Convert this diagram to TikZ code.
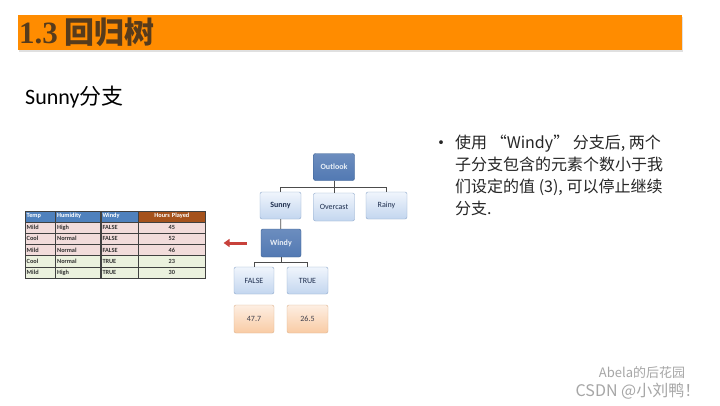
\documentclass[tikz,border=0pt]{standalone}
\usepackage{fontspec}
\setmainfont{Carlito}
\newfontfamily\cjk{Noto Sans CJK SC}
\newfontfamily\serifnum{Liberation Serif}
\usetikzlibrary{arrows.meta,positioning}
\definecolor{TitleOrange}{HTML}{FF8C00}
\definecolor{TitleBrown}{HTML}{563B1C}
\definecolor{HeadBlue}{HTML}{4F81BD}
\definecolor{HeadBrown}{HTML}{A5521C}
\definecolor{RowPink}{HTML}{F2DCDB}
\definecolor{RowGreen}{HTML}{EBF1DE}
\definecolor{NodeEdge}{HTML}{8DA8CB}
\definecolor{NodeTop}{HTML}{F0F5FC}
\definecolor{NodeBot}{HTML}{C3D6EF}
\definecolor{DarkFill}{HTML}{5279B3}
\definecolor{DarkEdge}{HTML}{3A5F91}
\definecolor{LeafTop}{HTML}{FDEEE2}
\definecolor{LeafBot}{HTML}{F9CBA4}
\definecolor{LeafEdge}{HTML}{DDB48F}
\definecolor{InkNavy}{HTML}{1F2F4F}
\definecolor{ArrRed}{HTML}{C8413B}

\begin{document}
\begin{tikzpicture}[x=1pt,y=-1pt,
  cellL/.style={rectangle,draw=black!75,line width=0.4pt,anchor=north west,
                minimum height=11.3pt,inner xsep=1.5pt,inner ysep=0pt,align=left,
                font=\fontsize{6.3}{7}\selectfont\bfseries,text=black!80},
  cellC/.style={cellL,align=center},
  headcell/.style={cellL,minimum height=11pt,text=white},
  light/.style={rectangle,rounded corners=2pt,draw=NodeEdge,
                top color=NodeTop,bottom color=NodeBot,
                minimum width=41pt,minimum height=27pt,inner sep=1pt,
                font=\fontsize{8}{9}\selectfont,text=InkNavy},
  dark/.style={light,draw=DarkEdge,top color=DarkFill!85,bottom color=DarkFill,
               text=white!88!HeadBlue,font=\fontsize{8}{9}\selectfont\bfseries},
  leaf/.style={light,draw=LeafEdge,top color=LeafTop,bottom color=LeafBot,
               text=InkNavy!80!brown},
  link/.style={draw=black!70,line width=0.8pt},
  redarr/.style={-{Triangle[length=6pt,width=8pt]},line width=3pt,ArrRed}]
\useasboundingbox (0,0) rectangle (720,405);
\fill[white] (0,0) rectangle (720,405);

% title bar
\fill[black!12] (19,17) rectangle (683,52);
\fill[TitleOrange] (18,15) rectangle (682,50);
\node[anchor=west,inner sep=0pt,text=TitleBrown] (title) at (19,32)
  {{\serifnum\bfseries\fontsize{31}{31}\selectfont 1.3}\hspace{7pt}%
   {\cjk\bfseries\fontsize{30}{30}\selectfont 回归树}};
\node[anchor=west,inner sep=0pt,font=\fontsize{22}{22}\selectfont] (sub) at (25,97)
  {Sunny{\cjk 分支}};

% data table
\node[headcell,fill=HeadBlue,minimum width=30pt,text width=27pt] (hTemp) at (25,210.5) {Temp};
\node[headcell,fill=HeadBlue,minimum width=45pt,text width=42pt,right=0pt of hTemp] (hHum) {Humidity};
\node[headcell,fill=HeadBlue,minimum width=37pt,text width=34pt,right=0pt of hHum] (hWin) {Windy};
\node[headcell,fill=HeadBrown,minimum width=67pt,text width=64pt,align=center,right=0pt of hWin] (hHrs) {Hours Played};
\foreach \r/\t/\h/\w/\p/\bg in {1/Mild/High/FALSE/45/RowPink,
    2/Cool/Normal/FALSE/52/RowPink, 3/Mild/Normal/FALSE/46/RowPink,
    4/Cool/Normal/TRUE/23/RowGreen, 5/Mild/High/TRUE/30/RowGreen}{
  \pgfmathsetmacro\ry{221.5+(\r-1)*11.3}
  \node[cellL,fill=\bg,minimum width=30pt,text width=27pt] (temp\r) at (25,\ry) {\t};
  \node[cellL,fill=\bg,minimum width=45pt,text width=42pt,right=0pt of temp\r] (hum\r) {\h};
  \node[cellL,fill=\bg,minimum width=37pt,text width=34pt,right=0pt of hum\r] (win\r) {\w};
  \node[cellC,fill=\bg,minimum width=67pt,text width=64pt,right=0pt of win\r] (hrs\r) {\p};
}

% tree
\node[dark,minimum height=27pt] (outlook) at (334,167) {Outlook};
\node[light,font=\fontsize{8}{9}\selectfont\bfseries] (sunny) at (280.5,205.5) {Sunny};
\node[light,minimum height=28pt] (overcast) at (334,207) {Overcast};
\node[light] (rainy) at (386.5,205.5) {Rainy};
\node[dark,minimum width=40pt,minimum height=28pt] (windy) at (281,243) {Windy};
\node[light,minimum width=40pt] (false) at (254,280.5) {FALSE};
\node[light] (true) at (307.5,280.5) {TRUE};
\node[leaf,minimum width=40pt,minimum height=28pt] (v1) at (254,319) {47.7};
\node[leaf,minimum height=28pt] (v2) at (307.5,319) {26.5};

\draw[link] (outlook.south) -- ++(0,7) -| (sunny.north);
\draw[link] (outlook.south) -- ++(0,7) -| (rainy.north);
\draw[link] (outlook.south) -- (overcast.north);
\draw[link] (sunny) -- (windy);
\draw[link] (windy.south) -- ++(0,5) -| (false.north);
\draw[link] (windy.south) -- ++(0,5) -| (true.north);

\draw[redarr,shorten <=14pt,shorten >=18pt] (windy.west) -- (windy.west -| hHrs.east);

% note
\node[font=\cjk\fontsize{18}{18}\selectfont,text=black!85] (bul) at (441,145) {•};
\node[anchor=north west,align=left,inner sep=0pt,text=black!85,
      font=\cjk\fontsize{16}{22}\selectfont] (note) at (455,135)
  {使用 “Windy” 分支后, 两个\\子分支包含的元素个数小于我\\们设定的值 (3), 可以停止继续\\分支.};

% watermark
\node[text=black!35,font=\cjk\fontsize{13}{13}\selectfont,inner sep=0pt] (wm1) at (642,373) {Abela的后花园};
\node[text=black!35,font=\cjk\fontsize{16}{16}\selectfont,inner sep=0pt] (wm2) at (638,391) {CSDN @小刘鸭！};
\end{tikzpicture}
\end{document}
